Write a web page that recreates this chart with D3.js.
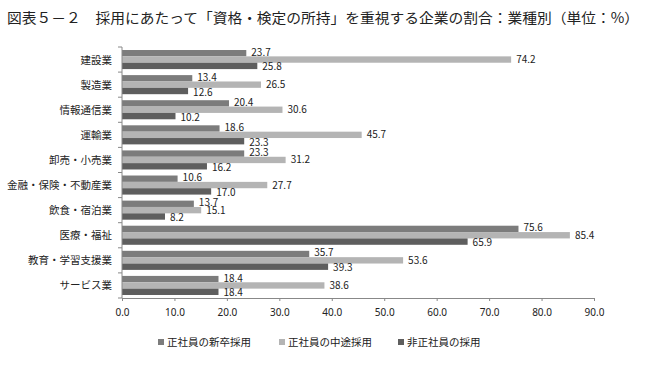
<!DOCTYPE html>
<html><head><meta charset="utf-8">
<script src="https://cdn.jsdelivr.net/npm/d3@7"></script>
<style>body{margin:0;background:#fff}svg{display:block}text{font-family:"Noto Sans CJK JP","Noto Sans",sans-serif}</style>
</head><body><svg id="c" width="650" height="365"></svg>
<script>
const title = "図表５－２　採用にあたって「資格・検定の所持」を重視する企業の割合：業種別（単位：%）";
const categories = ["建設業","製造業","情報通信業","運輸業","卸売・小売業","金融・保険・不動産業","飲食・宿泊業","医療・福祉","教育・学習支援業","サービス業"];
const seriesNames = ["正社員の新卒採用","正社員の中途採用","非正社員の採用"];
const newGrad = [23.7,13.4,20.4,18.6,23.3,10.6,13.7,75.6,35.7,18.4];
const midCareer = [74.2,26.5,30.6,45.7,31.2,27.7,15.1,85.4,53.6,38.6];
const nonRegular = [25.8,12.6,10.2,23.3,16.2,17.0,8.2,65.9,39.3,18.4];
const xTicks = [0,10,20,30,40,50,60,70,80,90];
const colors = ["#7c7c7c","#b4b4b4","#5e5e5e"];
const seriesValues = [newGrad, midCareer, nonRegular];

const svg = d3.select("#c");
svg.append("text").attr("x",7).attr("y",23).attr("font-size",14).attr("fill","#222")
  .attr("textLength",632).attr("lengthAdjust","spacingAndGlyphs").text(title);

const x = d3.scaleLinear().domain([0,90]).range([122,594]);
const y = d3.scaleBand().domain(categories).range([47,298]).paddingInner(0.24).paddingOuter(0.12);
const ys = d3.scaleBand().domain([0,1,2]).range([0,y.bandwidth()]);

const g = svg.append("g");
categories.forEach((c,i)=>{
  seriesValues.forEach((vals,s)=>{
    g.append("rect").attr("x",x(0)).attr("y",y(c)+ys(s)).attr("width",x(vals[i])-x(0)).attr("height",ys.bandwidth()).attr("fill",colors[s]);
    g.append("text").attr("x",x(vals[i])+5).attr("y",y(c)+ys(s)+ys.bandwidth()/2+3.5+(s===0?-1:s===2?1:0))
      .attr("font-size",10).attr("fill","#222").text(vals[i].toFixed(1));
  });
});

// x axis
const xa = svg.append("g").attr("transform","translate(0,298)")
  .call(d3.axisBottom(x).tickValues(xTicks).tickFormat(d=>d.toFixed(1)).tickSize(3));
xa.select(".domain").attr("stroke","#888");
xa.selectAll(".tick line").attr("stroke","#888");
xa.selectAll("text").attr("font-size",10).attr("fill","#222").attr("dy","1.2em").style("font-family","'Noto Sans','DejaVu Sans',sans-serif");

// y axis
const ya = svg.append("g");
ya.append("line").attr("x1",x(0)).attr("x2",x(0)).attr("y1",47).attr("y2",298).attr("stroke","#888");
d3.range(categories.length+1).forEach(k=>{
  const yy = 47 + (298-47)*k/categories.length;
  ya.append("line").attr("x1",x(0)-4).attr("x2",x(0)).attr("y1",yy).attr("y2",yy).attr("stroke","#888");
});
categories.forEach((c,i)=>{
  const yy = 47 + (298-47)*(i+0.5)/categories.length;
  ya.append("text").attr("x",x(0)-10).attr("y",yy+4).attr("text-anchor","end").attr("font-size",10.5).attr("fill","#222").text(c);
});

// legend
const lx = [158,279,398];
seriesNames.forEach((n,s)=>{
  svg.append("rect").attr("x",lx[s]).attr("y",339).attr("width",6).attr("height",6).attr("fill",colors[s]);
  svg.append("text").attr("x",lx[s]+9).attr("y",346).attr("font-size",10.5).attr("fill","#222").text(n);
});
</script></body></html>
